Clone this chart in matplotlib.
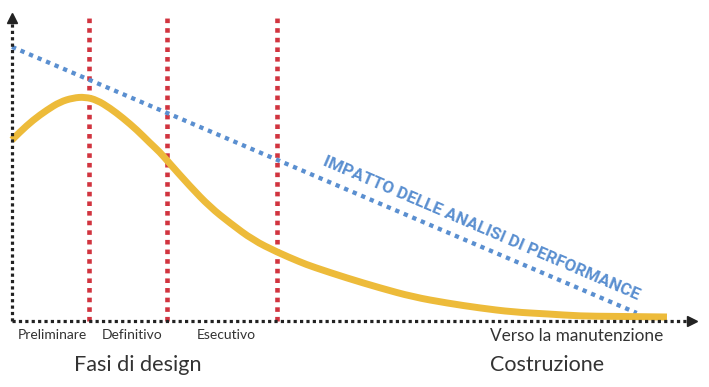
import matplotlib.pyplot as plt
from matplotlib.patches import PathPatch
from matplotlib.path import Path

# scale: 0..100 on both axes (time along the project / relative effort)
curve_x = [0.0, 1.16, 3.05, 5.09, 6.98, 8.87, 10.61, 12.35, 14.24, 16.13,
           18.17, 20.06, 21.51, 22.67, 25.87, 28.78, 31.69, 35.03, 38.52,
           41.86, 43.75, 48.69, 53.49, 58.28, 63.23, 68.02, 72.82, 77.76,
           82.56, 87.35, 95.2]
curve_y = [58.6, 61.2, 65.0, 68.3, 70.9, 72.2, 72.5, 71.5, 68.9, 65.7,
           61.8, 57.6, 54.6, 51.6, 43.6, 36.9, 31.7, 26.2, 22.3,
           19.1, 17.5, 13.9, 10.7, 7.8, 5.8, 4.2, 2.9, 2.3,
           1.6, 1.5, 1.3]

impact_x = [0.0, 90.8]
impact_y = [88.7, 2.6]

phase_x = [11.2, 22.5, 38.5]
phase_labels = ["Preliminare", "Definitivo", "Esecutivo"]
phase_label_x = [0.9, 13.1, 26.9]

YELLOW = "#edbb3a"
RED = "#d1343f"
BLUE = "#5a8fd0"
BLACK = "#222222"
TEXT = "#333333"

W, H = 709, 387


def smooth_path(xs, ys):
    # quadratic bezier through midpoints, the read points act as control points
    pts = list(zip(xs, ys))
    verts = [pts[0]]
    codes = [Path.MOVETO]
    for i in range(1, len(pts) - 1):
        mid = ((pts[i][0] + pts[i + 1][0]) / 2, (pts[i][1] + pts[i + 1][1]) / 2)
        verts += [pts[i], mid]
        codes += [Path.CURVE3, Path.CURVE3]
    verts.append(pts[-1])
    codes.append(Path.LINETO)
    return Path(verts, codes)


fig = plt.figure(figsize=(W / 100, H / 100), dpi=100)
ax = fig.add_axes([12 / W, (H - 321) / H, 688 / W, 309 / H])
ax.set_xlim(0, 100)
ax.set_ylim(0, 100)
ax.axis("off")

# phase separators
for x in phase_x:
    ax.plot([x, x], [0, 99.7], color=RED, lw=3.3, dashes=(1, 1.1),
            dash_capstyle="butt", clip_on=False, zorder=2)

# impact line
ax.plot(impact_x, impact_y, color=BLUE, lw=3.1, dashes=(1, 1.15),
        dash_capstyle="butt", clip_on=False, zorder=3)

# effort curve
ax.add_patch(PathPatch(smooth_path(curve_x, curve_y), fill=False,
                       edgecolor=YELLOW, lw=5.0, capstyle="butt",
                       joinstyle="round", clip_on=False, zorder=4))

# axes with arrows
ax.plot([0, 0], [0, 97], color=BLACK, lw=2.3, dashes=(1, 1.0),
        dash_capstyle="butt", clip_on=False, zorder=5)
ax.plot([0, 98.5], [0, 0], color=BLACK, lw=2.3, dashes=(1, 1.0),
        dash_capstyle="butt", clip_on=False, zorder=5)
ax.plot([0], [98.0], marker="^", ms=7.5, color=BLACK, clip_on=False, zorder=6)
ax.plot([98.8], [0], marker=">", ms=7.5, color=BLACK, clip_on=False, zorder=6)

# labels
for lx, lab in zip(phase_label_x, phase_labels):
    ax.text(lx, -4.4, lab, ha="left", va="center", fontsize=10.0,
            family="Lato", color=TEXT, clip_on=False)
ax.text(69.5, -4.7, "Verso la manutenzione", ha="left", va="center",
        fontsize=12.4, family="Lato", color=TEXT, clip_on=False)
ax.text(9.0, -14.3, "Fasi di design", ha="left", va="center",
        fontsize=15.6, family="Lato", color=TEXT, clip_on=False)
ax.text(69.5, -14.3, "Costruzione", ha="left", va="center",
        fontsize=15.5, family="Lato", color=TEXT, clip_on=False)

ax.text(68.2, 29.9, "IMPATTO DELLE ANALISI DI PERFORMANCE", ha="center",
        va="center", rotation=-23.2, rotation_mode="anchor", fontsize=12.2,
        family="Roboto", fontweight="bold", color=BLUE, clip_on=False)

fig.savefig("out.png", dpi=100, facecolor="white")
